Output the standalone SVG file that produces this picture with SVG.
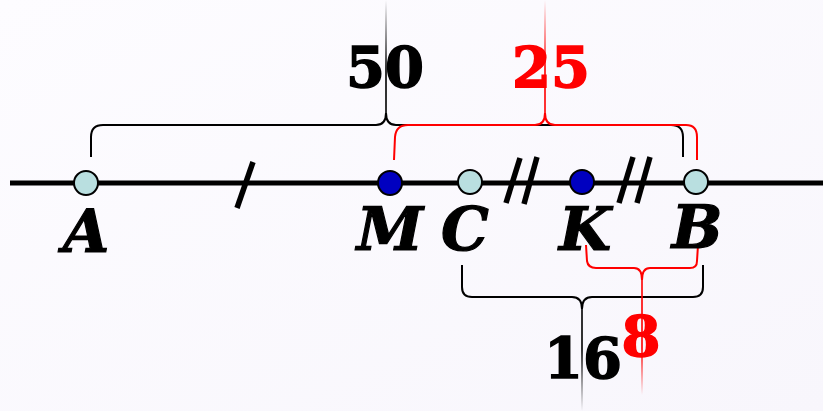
<svg xmlns="http://www.w3.org/2000/svg" width="823" height="411" viewBox="0 0 823 411">
<defs>
<linearGradient id="bg" x1="0" y1="0" x2="1" y2="1">
<stop offset="0" stop-color="#fdfcff"/>
<stop offset="1" stop-color="#f8f6fc"/>
</linearGradient>
<linearGradient id="fadeUpK" x1="0" y1="0" x2="0" y2="1">
<stop offset="0" stop-color="#000" stop-opacity="0"/>
<stop offset="0.6" stop-color="#000" stop-opacity="1"/>
</linearGradient>
<linearGradient id="fadeUpR" x1="0" y1="0" x2="0" y2="1">
<stop offset="0" stop-color="#f00" stop-opacity="0"/>
<stop offset="0.6" stop-color="#f00" stop-opacity="1"/>
</linearGradient>
<linearGradient id="fadeDnK" x1="0" y1="0" x2="0" y2="1">
<stop offset="0.4" stop-color="#000" stop-opacity="1"/>
<stop offset="1" stop-color="#000" stop-opacity="0"/>
</linearGradient>
<linearGradient id="fadeDnR" x1="0" y1="0" x2="0" y2="1">
<stop offset="0.6" stop-color="#f00" stop-opacity="1"/>
<stop offset="1" stop-color="#f00" stop-opacity="0"/>
</linearGradient>
</defs>
<style>
.pt-open{fill:#b9dfe0;stroke:#000;stroke-width:2}
.pt-fill{fill:#0000c0;stroke:#000;stroke-width:2}
.lbl{font-family:"DejaVu Serif","Liberation Serif",serif;font-weight:bold;font-style:italic;font-size:60px;fill:#000;stroke:#000;stroke-width:1.2;text-anchor:middle}
.num{font-family:"DejaVu Serif","Liberation Serif",serif;font-weight:bold;font-size:56px;stroke-width:1.5;text-anchor:middle}
.brk{fill:none;stroke:#000;stroke-width:2}
.brr{fill:none;stroke:#f00;stroke-width:2}
.tick{stroke:#000;stroke-width:5.5;stroke-linecap:butt}
</style>
<rect width="823" height="411" fill="url(#bg)"/>
<g id="axis">
<line x1="10" y1="183" x2="823" y2="183" stroke="#000" stroke-width="5"/>
<line class="tick" x1="253" y1="162" x2="237" y2="208"/>
<line class="tick" x1="520" y1="158" x2="506" y2="203"/>
<line class="tick" x1="537" y1="157" x2="524" y2="204"/>
<line class="tick" x1="633" y1="157" x2="619" y2="203"/>
<line class="tick" x1="650" y1="157" x2="637" y2="203"/>
</g>
<g id="connectors">
<rect x="385.2" y="0" width="1.6" height="115" fill="url(#fadeUpK)"/>
<path class="brk" d="M91,157 L91,137 Q91,125 103,125 L376,125 Q386,125 386,113 Q386,125 396,125 L671,125 Q683,125 683,137 L683,157"/>
<rect x="544.2" y="0" width="1.6" height="115" fill="url(#fadeUpR)"/>
<path class="brr" d="M394,160 L395,137 Q396,125 408,125 L535,125 Q545,125 545,113 Q545,125 555,125 L686,125 Q697,125 697,137 L697,160"/>
<path class="brk" d="M462,265 L462,287 Q462,297 472,297 L572,297 Q582,297 582,309 Q582,297 592,297 L693,297 Q703,297 703,287 L703,265"/>
<rect x="581.2" y="307" width="1.6" height="104" fill="url(#fadeDnK)"/>
<path class="brr" d="M586,245 L587,261 Q588,268 596,268 L634,268 Q642,268 642,280 Q642,268 650,268 L690,268 Q697,268 697,261 L698,245"/>
<rect x="641.2" y="278" width="1.6" height="117" fill="url(#fadeDnR)"/>
</g>
<g id="node-A"><circle class="pt-open" cx="86" cy="183" r="12"/><text class="lbl" x="86" y="252">A</text></g>
<g id="node-M"><circle class="pt-fill" cx="390" cy="183" r="12"/><text class="lbl" x="390" y="250">M</text></g>
<g id="node-C"><circle class="pt-open" cx="470" cy="182" r="12"/><text class="lbl" x="465" y="250">C</text></g>
<g id="node-K"><circle class="pt-fill" cx="582" cy="182" r="12"/><text class="lbl" x="585" y="250">K</text></g>
<g id="node-B"><circle class="pt-open" cx="696" cy="182" r="12"/><text class="lbl" x="697" y="248">B</text></g>
<g id="labels">
<text class="num" x="385" y="87" fill="#000" stroke="#000">50</text>
<text class="num" x="551" y="87" fill="#f00" stroke="#f00">25</text>
<text class="num" x="583" y="378" fill="#000" stroke="#000">16</text>
<text class="num" x="641" y="356" fill="#f00" stroke="#f00" font-size="60">8</text>
</g>
</svg>
